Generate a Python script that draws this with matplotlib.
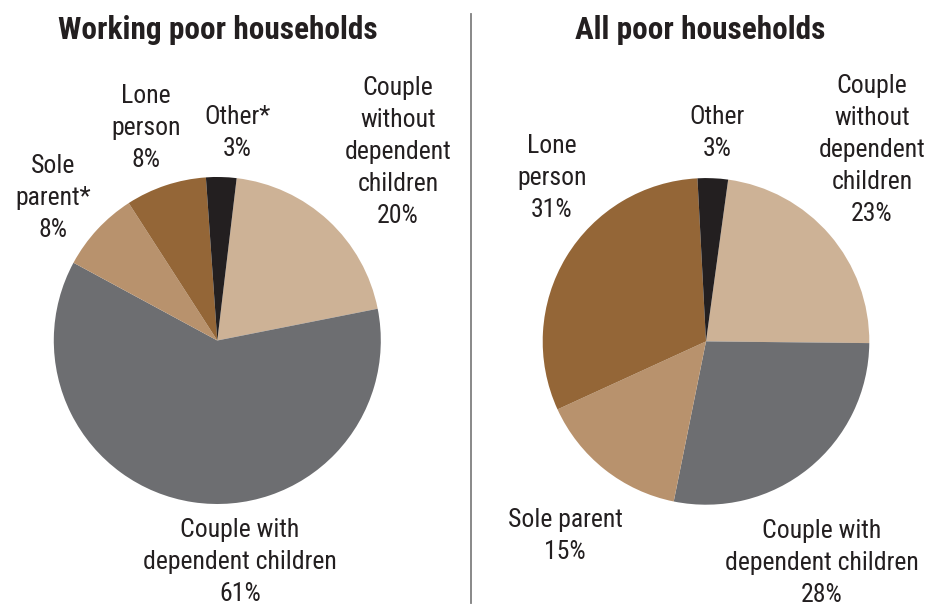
import matplotlib
matplotlib.use("Agg")
import matplotlib.pyplot as plt
from matplotlib import font_manager as fm

W, H = 938, 608

# Household shares (percent), clockwise from the top of each pie
categories = ["Couple without dependent children", "Couple with dependent children",
              "Sole parent", "Lone person", "Other"]
working_poor = [20, 61, 8, 8, 3]
all_poor = [23, 28, 15, 31, 3]

colors = ["#CDB296", "#6D6E71", "#B8926D", "#946637", "#231F20"]
text_color = "#231F20"

# pick a narrow sans if one is installed
names = {f.name for f in fm.fontManager.ttflist}
family = "DejaVu Sans"
for cand in ["Liberation Sans Narrow", "Roboto Condensed", "Open Sans Condensed",
             "DejaVu Sans Condensed", "Liberation Sans"]:
    if cand in names:
        family = cand
        break
plt.rcParams["font.family"] = [family, "DejaVu Sans"]

fig = plt.figure(figsize=(W / 100, H / 100), dpi=100)
fig.patch.set_facecolor("white")


def fx(x, y):
    return x / W, 1 - y / H


def draw_pie(values, cx, cy, r, start):
    ax = fig.add_axes([(cx - r) / W, (H - cy - r) / H, 2 * r / W, 2 * r / H])
    ax.pie(values, colors=colors, startangle=start, counterclock=False,
           radius=1, wedgeprops=dict(linewidth=0))
    ax.set_xlim(-1, 1)
    ax.set_ylim(-1, 1)
    ax.set_aspect("equal")
    ax.axis("off")
    return ax


draw_pie(working_poor, 217.3, 340.5, 163.5, 83.2)
draw_pie(all_poor, 706, 341.4, 163.3, 82.2)

fs = 18.5
ls = 1.42
kw = dict(ha="center", va="center", fontsize=fs, color=text_color,
          linespacing=ls, multialignment="center")

# titles
fig.text(*fx(218, 30), "Working poor households", ha="center", va="center",
         fontsize=22.5, fontweight="bold", color=text_color)
fig.text(*fx(700, 30), "All poor households", ha="center", va="center",
         fontsize=22.5, fontweight="bold", color=text_color)

# left pie labels
w = working_poor
fig.text(*fx(398, 152), f"Couple\nwithout\ndependent\nchildren\n{w[0]}%", **kw)
fig.text(*fx(240, 562), f"Couple with\ndependent children\n{w[1]}%", **kw)
fig.text(*fx(53, 198), f"Sole\nparent*\n{w[2]}%", **kw)
fig.text(*fx(146, 128), f"Lone\nperson\n{w[3]}%", **kw)
fig.text(*fx(237, 133), f"Other*\n{w[4]}%", **kw)

# right pie labels
a = all_poor
fig.text(*fx(872, 150), f"Couple\nwithout\ndependent\nchildren\n{a[0]}%", **kw)
fig.text(*fx(822, 563), f"Couple with\ndependent children\n{a[1]}%", **kw)
fig.text(*fx(565, 536), f"Sole parent\n{a[2]}%", **kw)
fig.text(*fx(552, 178), f"Lone\nperson\n{a[3]}%", **kw)
fig.text(*fx(717, 133), f"Other\n{a[4]}%", **kw)

# divider between the two panels
fig.add_artist(plt.Line2D([471 / W, 471 / W], [1 - 14 / H, 1 - 603 / H],
                          transform=fig.transFigure, color="#7F7F7F", linewidth=1.3))

fig.savefig("out.png", dpi=100, facecolor="white")
